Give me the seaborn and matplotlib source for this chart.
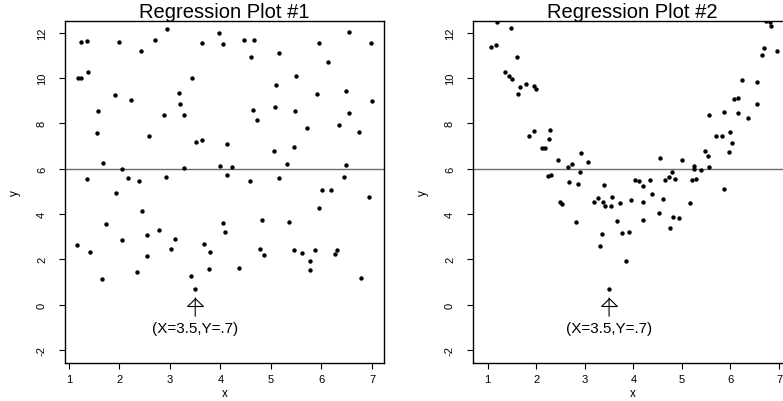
import matplotlib
matplotlib.use("Agg")
import matplotlib.pyplot as plt
import seaborn as sns
import pandas as pd
from matplotlib.path import Path

# ---------------- data ----------------
x1 = [1.23, 1.35, 1.18, 1.24, 1.38, 1.57, 1.55, 1.67, 1.36, 1.92,
      2.00, 2.04, 2.17, 2.22, 2.38, 2.42, 2.58, 2.70, 2.89, 2.95,
      2.93, 3.18, 3.20, 3.28, 3.28, 3.43, 3.51, 3.63, 3.63, 3.98,
      4.00, 4.05, 4.46, 4.66, 4.60, 5.15, 5.49, 5.09, 5.91, 6.48,
      6.54, 5.96, 6.13, 6.99, 7.01, 4.64, 5.08, 5.48, 4.72, 6.54,
      5.72, 6.35, 6.75, 4.12, 5.05, 5.45, 4.23, 5.32, 6.49, 4.12,
      4.59, 5.15, 6.45, 1.94, 2.44, 1.73, 1.15, 1.42, 2.04, 2.55,
      2.78, 3.10, 3.02, 2.55, 1.66, 2.35, 3.41, 3.50, 3.68, 3.79,
      3.77, 6.02, 6.19, 6.94, 5.95, 4.04, 4.09, 4.82, 5.36, 4.78,
      4.87, 5.46, 5.62, 5.87, 6.31, 6.27, 5.78, 5.77, 4.37, 6.78]
y1 = [11.59, 11.63, 10.00, 10.02, 10.26, 8.54, 7.57, 6.25, 5.54, 9.25,
      11.59, 5.97, 5.59, 9.04, 5.46, 11.19, 7.44, 11.68, 8.37, 12.16,
      5.63, 9.34, 8.85, 8.37, 6.03, 10.00, 7.18, 7.26, 11.55, 11.99,
      6.13, 11.51, 11.68, 11.68, 10.94, 11.10, 10.10, 9.69, 9.29, 9.44,
      12.03, 11.54, 10.72, 11.54, 8.99, 8.60, 8.72, 8.56, 8.16, 8.46,
      7.81, 7.93, 7.62, 7.09, 6.79, 6.97, 6.09, 6.22, 6.18, 5.74,
      5.46, 5.60, 5.65, 4.93, 4.13, 3.57, 2.63, 2.32, 2.85, 3.07,
      3.30, 2.90, 2.46, 2.15, 1.13, 1.44, 1.27, 0.70, 2.66, 2.34,
      1.57, 5.06, 5.06, 4.75, 4.27, 3.60, 3.22, 3.74, 3.65, 2.46,
      2.19, 2.41, 2.28, 2.41, 2.41, 2.24, 1.93, 1.53, 1.62, 1.18]

x2 = [1.07, 1.18, 1.20, 1.47, 1.60, 1.35, 1.44, 1.51, 1.66, 1.62,
      1.79, 1.95, 2.00, 1.86, 1.96, 2.29, 2.27, 2.12, 2.19, 2.45,
      2.66, 2.74, 2.92, 3.07, 2.91, 2.24, 2.31, 2.67, 2.87, 3.40,
      2.49, 2.52, 2.82, 3.18, 3.27, 3.37, 3.42, 3.35, 3.32, 3.50,
      3.54, 3.55, 3.72, 3.96, 4.20, 4.03, 4.12, 4.20, 4.35, 4.38,
      4.65, 4.74, 4.80, 4.86, 4.61, 4.52, 5.16, 5.21, 5.29, 5.87,
      3.66, 4.20, 4.82, 4.94, 4.75, 3.76, 3.92, 3.85, 4.54, 5.00,
      5.25, 5.25, 5.39, 5.56, 5.48, 5.54, 5.71, 5.82, 5.99, 6.04,
      5.98, 5.55, 5.87, 6.15, 6.36, 6.07, 6.15, 6.54, 6.24, 6.54,
      6.66, 6.69, 6.96, 6.73, 6.81, 6.84]
y2 = [11.37, 11.46, 12.47, 12.21, 10.93, 10.26, 10.09, 9.96, 9.60, 9.29,
      9.74, 9.65, 9.52, 7.44, 7.66, 7.71, 7.31, 6.91, 6.91, 6.38,
      6.07, 6.21, 6.69, 6.29, 5.85, 5.68, 5.72, 5.41, 5.32, 5.28,
      4.53, 4.44, 3.65, 4.53, 4.71, 4.53, 4.35, 3.12, 2.59, 0.70,
      4.35, 4.75, 4.49, 4.62, 4.53, 5.50, 5.46, 5.24, 5.50, 4.88,
      5.50, 5.63, 5.85, 5.54, 4.66, 4.05, 4.49, 5.50, 5.54, 5.10,
      3.69, 3.74, 3.87, 3.82, 3.38, 3.16, 3.21, 1.93, 6.47, 6.38,
      6.10, 5.98, 5.94, 6.07, 6.78, 6.56, 7.44, 7.44, 7.62, 7.13,
      6.74, 8.37, 8.50, 8.46, 8.24, 9.07, 9.12, 8.85, 9.91, 9.82,
      11.01, 11.32, 11.19, 12.51, 12.47, 12.29]

titles = ["Regression Plot #1", "Regression Plot #2"]
ref_line_y = 6
annot_x, annot_y = 3.5, 0.7
annot_text = "(X=3.5,Y=.7)"
xticks = [1, 2, 3, 4, 5, 6, 7]
yticks = [-2, 0, 2, 4, 6, 8, 10, 12]

# ---------------- style ----------------
sns.set_theme(style="ticks")
plt.rcParams["font.family"] = ["Liberation Sans", "DejaVu Sans"]

W, H = 783, 402
fig = plt.figure(figsize=(W / 100, H / 100), dpi=100)


def px_axes(l, t, r, b):
    return fig.add_axes([l / W, 1 - b / H, (r - l) / W, (b - t) / H])


ax1 = px_axes(65, 22, 384, 364)
ax2 = px_axes(473, 22, 792, 364)

panels = [
    (ax1, x1, y1, titles[0], (0.921, 7.238)),
    (ax2, x2, y2, titles[1], (0.697, 7.268)),
]

head = Path([(-1, 0), (1, 0), (0, 0.98), (-1, 0)],
            [Path.MOVETO, Path.LINETO, Path.LINETO, Path.CLOSEPOLY])

for ax, xs, ys, title, xl in panels:
    df = pd.DataFrame({"x": xs, "y": ys})
    sns.scatterplot(data=df, x="x", y="y", ax=ax, color="black", s=10,
                    linewidth=0, zorder=3)
    ax.axhline(ref_line_y, color="#6e6e6e", lw=1.0, zorder=2)
    ax.set_xlim(*xl)
    ax.set_ylim(-2.572, 12.515)
    ax.set_xticks(xticks)
    ax.set_yticks(yticks)
    ax.set_xticklabels([str(t) for t in xticks])
    ax.set_yticklabels([str(t) for t in yticks])
    ax.tick_params(direction="out", length=4, width=0.8, color="black",
                   labelsize=8, labelcolor="black", top=False, right=False)
    ax.tick_params(axis="x", pad=4)
    ax.tick_params(axis="y", pad=9)
    for lab in ax.get_yticklabels():
        lab.set_rotation(90)
        lab.set_va("center")
    for sp in ax.spines.values():
        sp.set_color("black")
        sp.set_linewidth(1.0)
    ax.set_title(title, fontsize=14.5, pad=2.5, color="black")
    ax.set_xlabel("x", fontsize=8.5, color="black")
    ax.set_ylabel("y", fontsize=8.5, color="black")
    ax.xaxis.set_label_coords(0.5, (364 - 394) / 342)
    ax.xaxis.label.set_va("center")
    ax.yaxis.set_label_coords(-50 / 319, 0.5)
    ax.yaxis.label.set_va("center")

    # annotation arrow and text
    ax.annotate("", xy=(annot_x, annot_y - 0.40), xytext=(annot_x, annot_y - 1.21),
                arrowprops=dict(arrowstyle="-", color="black", lw=0.8,
                                shrinkA=0, shrinkB=0))
    ax.plot([annot_x], [annot_y - 0.74], marker=head, markersize=11.3,
            markerfacecolor="none", markeredgecolor="black",
            markeredgewidth=0.8, linestyle="none")
    ax.text(annot_x, annot_y - 1.74, annot_text, ha="center", va="center",
            fontsize=11, color="black")

fig.savefig("out.png", dpi=100)
